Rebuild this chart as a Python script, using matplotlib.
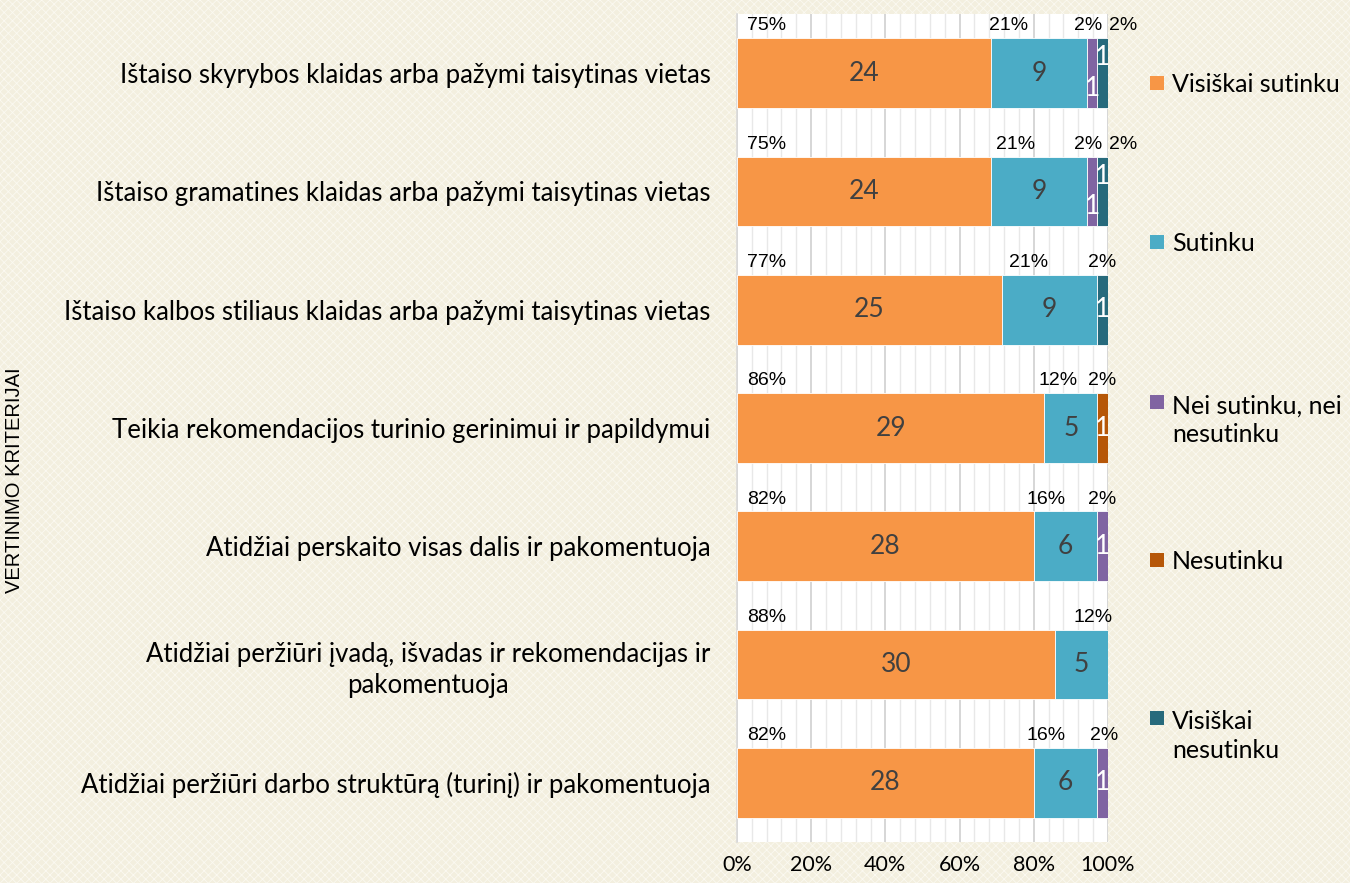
import matplotlib
matplotlib.use("Agg")
import matplotlib.pyplot as plt
from matplotlib.patches import Rectangle
from matplotlib.ticker import MultipleLocator, PercentFormatter
import numpy as np

# Data
categories = [
    "Ištaiso skyrybos klaidas arba pažymi taisytinas vietas",
    "Ištaiso gramatines klaidas arba pažymi taisytinas vietas",
    "Ištaiso kalbos stiliaus klaidas arba pažymi taisytinas vietas",
    "Teikia rekomendacijos turinio gerinimui ir papildymui",
    "Atidžiai perskaito visas dalis ir pakomentuoja",
    "Atidžiai peržiūri įvadą, išvadas ir rekomendacijas ir\npakomentuoja",
    "Atidžiai peržiūri darbo struktūrą (turinį) ir pakomentuoja",
]
series_names = ["Visiškai sutinku", "Sutinku", "Nei sutinku, nei\nnesutinku",
                "Nesutinku", "Visiškai\nnesutinku"]
visiskai_sutinku = [24, 24, 25, 29, 28, 30, 28]
sutinku = [9, 9, 9, 5, 6, 5, 6]
nei_sutinku = [1, 1, 0, 0, 1, 0, 1]
nesutinku = [0, 0, 0, 1, 0, 0, 0]
visiskai_nesutinku = [1, 1, 1, 0, 0, 0, 0]

# percentage texts shown above each bar
pct_labels = [
    ["75%", "21%", "2%", "2%"],
    ["75%", "21%", "2%", "2%"],
    ["77%", "21%", "2%"],
    ["86%", "12%", "2%"],
    ["82%", "16%", "2%"],
    ["88%", "12%"],
    ["82%", "16%", "2%"],
]

# layout: x position (axis %) of the percentage texts
pct_label_x = [
    [8, 73.3, 94.6, 104],
    [8, 75, 94.6, 104],
    [8, 78.7, 98.4],
    [8, 86.5, 98.4],
    [8, 83.3, 98.4],
    [8, 96],
    [8, 83.3, 99],
]
colors = ["#F79646", "#4BACC6", "#8064A2", "#B65708", "#276A7C"]
value_colors = ["#404040", "#404040", "white", "white", "white"]
# small vertical nudges for value labels that would overlap
nudge = {(0, 2): 0.13, (0, 4): -0.13, (1, 2): 0.13, (1, 4): -0.13}

counts = np.array([visiskai_sutinku, sutinku, nei_sutinku, nesutinku,
                   visiskai_nesutinku], dtype=float)
shares = counts / counts.sum(axis=0) * 100

bg = "#F3EFDF"
fig = plt.figure(figsize=(13.5, 8.83), dpi=100, facecolor=bg)
plt.rcParams["hatch.linewidth"] = 0.6
fig.patches.append(Rectangle((0, 0), 1, 1, transform=fig.transFigure,
                             facecolor=bg, edgecolor="#FBF9F1", hatch="xxxx",
                             linewidth=0, zorder=-10))

ax = fig.add_axes([0.5459, 0.0464, 0.2748, 0.9377])
ax.set_facecolor("white")

y = np.arange(len(categories))
left = np.zeros(len(categories))
containers = []
for i in range(len(series_names)):
    bars = ax.barh(y, shares[i], left=left, height=0.59, color=colors[i],
                   edgecolor="white", linewidth=0.6, zorder=3)
    containers.append(bars)
    left += shares[i]

# value labels inside segments
for i, bars in enumerate(containers):
    for r, rect in enumerate(bars):
        if counts[i, r] == 0:
            continue
        cx = rect.get_x() + rect.get_width() / 2
        cy = rect.get_y() + rect.get_height() / 2 + nudge.get((r, i), 0)
        ax.text(cx, cy, f"{int(counts[i, r])}", ha="center", va="center",
                fontsize=19, family="Lato", color=value_colors[i], zorder=5)

# percentage labels above bars
for r in range(len(categories)):
    for txt, px in zip(pct_labels[r], pct_label_x[r]):
        ax.text(px, r - 0.40, txt, ha="center", va="center", fontsize=14,
                family=["Liberation Sans Narrow", "Liberation Sans"],
                color="black", zorder=5, clip_on=False)

ax.set_xlim(0, 100)
ax.set_ylim(len(categories) - 0.5, -0.5)
ax.xaxis.set_major_locator(MultipleLocator(20))
ax.xaxis.set_minor_locator(MultipleLocator(4))
ax.xaxis.set_major_formatter(PercentFormatter(decimals=0))
ax.grid(axis="x", which="major", color="#D6D6D6", linewidth=1.4, zorder=0)
ax.grid(axis="x", which="minor", color="#E8E8E8", linewidth=1.0, zorder=0)
ax.set_axisbelow(True)
for s in ["top", "right", "bottom"]:
    ax.spines[s].set_visible(False)
ax.spines["left"].set_color("#D9D9D9")
ax.spines["left"].set_linewidth(1.2)

ax.set_yticks(y)
ax.set_yticklabels(categories, fontsize=18.5, family="Lato", color="black",
                   linespacing=1.3, multialignment="center")
ax.tick_params(axis="y", length=0, pad=19)
ax.tick_params(axis="x", which="both", length=0, pad=9, labelsize=15.5)
for lbl in ax.get_xticklabels():
    lbl.set_family("Lato")

fig.text(0.0111, 0.456, "VERTINIMO KRITERIJAI", rotation=90, ha="center",
         va="center", fontsize=14.5, family="Liberation Sans", color="black")

# legend drawn by hand to match the spaced layout
W, H = 1350, 883
legend_y = [83, 242, 402, 560, 718]
for name, col, yy in zip(series_names, colors, legend_y):
    fig.patches.append(Rectangle((1150 / W, 1 - (yy + 7) / H), 14 / W, 14 / H,
                                 transform=fig.transFigure, facecolor=col,
                                 edgecolor="none"))
    nlines = name.count("\n") + 1
    fig.text(1172 / W, 1 - (yy + 1.5 + (nlines - 1) * 16.5) / H, name,
             ha="left", va="center", fontsize=18, family="Lato",
             color="black", linespacing=1.3)

fig.savefig("out.png", dpi=100, facecolor=fig.get_facecolor())
